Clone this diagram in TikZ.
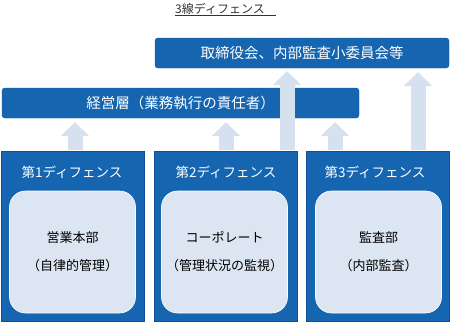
\documentclass[tikz,border=0pt]{standalone}
\usepackage{fontspec}
\setmainfont{Noto Sans CJK JP}
\usetikzlibrary{arrows.meta}
\definecolor{dblue}{HTML}{1665B1}
\definecolor{dline}{HTML}{0F4F95}
\definecolor{lblue}{HTML}{DCE6F2}
\definecolor{arr}{HTML}{D5E1EF}
\definecolor{ttl}{HTML}{333333}
\begin{document}
\begin{tikzpicture}[x=1pt,y=-1pt,
  topbox/.style={draw=dline, fill=dblue, rounded corners=3pt, text=white,
    font=\fontsize{14.5}{16}\selectfont, minimum height=30pt, inner sep=0pt},
  defbox/.style={draw=dline, fill=dblue, minimum width=143pt, minimum height=170pt, inner sep=0pt},
  headtext/.style={text=white, font=\fontsize{13.5}{15}\selectfont, inner sep=0pt},
  innerbox/.style={draw=white, line width=0.6pt, fill=lblue, rounded corners=16pt,
    minimum width=126pt, minimum height=122pt, align=center, inner sep=0pt,
    font=\fontsize{13}{28}\selectfont, text=black},
  uparrow/.style={draw=arr, line width=15pt, -{Triangle[width=28pt,length=14pt]}}
]
\useasboundingbox (0,0) rectangle (454,322);
% title
\node[inner sep=0pt, anchor=base west, text=ttl, font=\fontsize{12}{14}\selectfont] (title) at (175,13) {3線ディフェンス};
\draw[ttl, line width=0.7pt] ([yshift=-2.5pt]title.base west) -- ++(101,0);
% top boxes
\node[topbox, minimum width=294pt] (board) at (302,53) {取締役会、内部監査小委員会等};
\node[topbox, minimum width=357pt] (mgmt) at (180.5,103) {経営層（業務執行の責任者）};
% defence boxes
\node[defbox] (b1) at (72.5,236) {};
\node[defbox] (b2) at (225.5,236) {};
\node[defbox] (b3) at (377.5,236) {};
\node[headtext] (h1) at (72,172) {第1ディフェンス};
\node[headtext] (h2) at (226,172) {第2ディフェンス};
\node[headtext] (h3) at (375,172) {第3ディフェンス};
\node[innerbox] (i1) at (72.5,252) {営業本部\\（自律的管理）};
\node[innerbox] (i2) at (224.5,252) {コーポレート\\（管理状況の監視）};
\node[innerbox] (i3) at (378.5,252) {監査部\\（内部監査）};
% arrows
\draw[uparrow] ([yshift=1pt]b1.north -| 75,0) -- ([yshift=-4pt]mgmt.south -| 75,0);
\draw[uparrow] ([yshift=1pt]b2.north -| 226,0) -- ([yshift=-4pt]mgmt.south -| 226,0);
\draw[uparrow] ([yshift=1pt]b3.north -| 335,0) -- ([yshift=-4pt]mgmt.south -| 335,0);
\draw[uparrow] ([yshift=1pt]b2.north -| 287,0) -- ([yshift=-3pt]board.south -| 287,0);
\draw[uparrow] ([yshift=1pt]b3.north -| 418,0) -- ([yshift=-4pt]board.south -| 418,0);
\end{tikzpicture}
\end{document}
